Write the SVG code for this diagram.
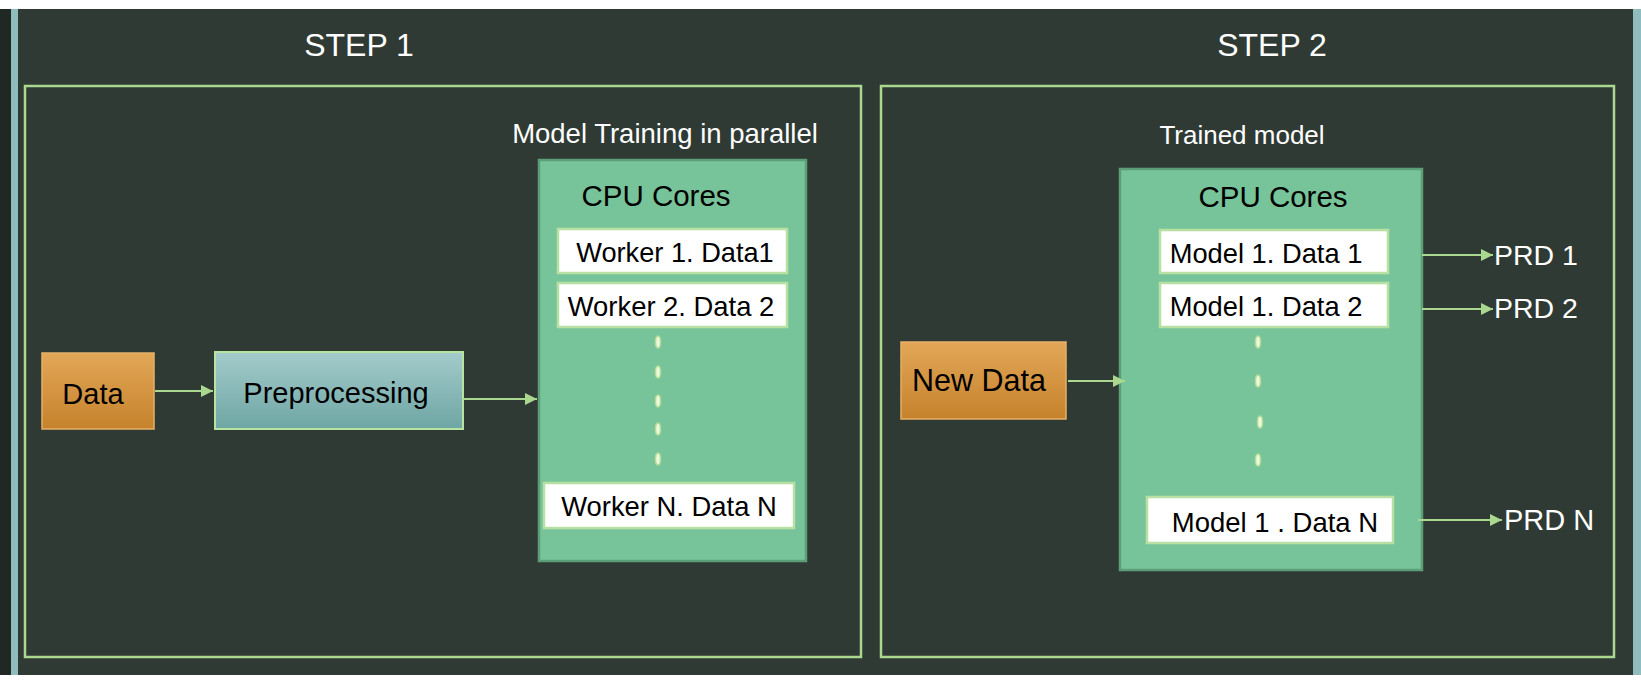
<svg xmlns="http://www.w3.org/2000/svg" width="1641" height="685" viewBox="0 0 1641 685">
<style>
.frame{fill:none;stroke:#a9d88e;stroke-width:2.5}
.cpu{fill:#78c49a;stroke:#5c9e78;stroke-width:2.5}
.inner{fill:#ffffff;stroke:#b8e0a2;stroke-width:2.5}
.t{font-family:"Liberation Sans",Arial,sans-serif;fill:#000}
.w{font-family:"Liberation Sans",Arial,sans-serif;fill:#ffffff}
.conn{stroke:#a9d88e;stroke-width:2.2;fill:none}
.dot{fill:#eef8dc;stroke:#b4dc98;stroke-width:1.5}
</style>
<defs>
<linearGradient id="orange" x1="0" y1="0" x2="0" y2="1">
<stop offset="0" stop-color="#e2a757"/>
<stop offset="1" stop-color="#c6822c"/>
</linearGradient>
<linearGradient id="teal" x1="0" y1="0" x2="0" y2="1">
<stop offset="0" stop-color="#a3cbcb"/>
<stop offset="1" stop-color="#6ea6a4"/>
</linearGradient>
<marker id="ah" viewBox="0 0 10 10" refX="10" refY="5" markerWidth="6" markerHeight="6" markerUnits="userSpaceOnUse" orient="auto">
<path d="M0,0 L10,5 L0,10 z" fill="#a9d88e"/>
</marker>
<marker id="ahb" viewBox="0 0 10 10" refX="10" refY="5" markerWidth="13" markerHeight="12" markerUnits="userSpaceOnUse" orient="auto">
<path d="M0,0 L10,5 L0,10 z" fill="#a9d88e"/>
</marker>
</defs>
<rect x="0" y="0" width="1641" height="685" fill="#ffffff"/>
<rect x="0" y="9" width="1641" height="666" fill="#2f3a34"/>
<rect x="0" y="9" width="11" height="666" fill="#1f2823"/>
<rect x="11" y="9" width="7" height="666" fill="#8fbcbc"/>
<rect x="1633" y="9" width="8" height="666" fill="#8fbcbc"/>

<g id="step1">
<text class="w" x="359" y="56" font-size="32" text-anchor="middle">STEP 1</text>
<rect class="frame" x="25" y="86" width="836" height="571"/>
</g>
<g id="step2">
<text class="w" x="1272" y="56" font-size="32" text-anchor="middle">STEP 2</text>
<rect class="frame" x="881" y="86" width="733" height="571"/>
</g>

<g id="data">
<rect x="42" y="353" width="112" height="76" fill="url(#orange)" stroke="#e6b068" stroke-width="1.5"/>
<text class="t" x="93" y="404" font-size="29" text-anchor="middle">Data</text>
</g>
<g id="preprocessing">
<rect x="215" y="352" width="248" height="77" fill="url(#teal)" stroke="#b8e2a0" stroke-width="2"/>
<text class="t" x="336" y="403" font-size="29" text-anchor="middle">Preprocessing</text>
</g>

<g id="training">
<text class="w" x="665" y="143" font-size="27.5" text-anchor="middle">Model Training in parallel</text>
<rect class="cpu" x="539" y="160" width="267" height="401"/>
<text class="t" x="656" y="206" font-size="29.5" text-anchor="middle">CPU Cores</text>
</g>
<g id="worker1">
<rect class="inner" x="558" y="229" width="229" height="44"/>
<text class="t" x="675" y="262" font-size="27.2" text-anchor="middle">Worker 1. Data1</text>
</g>
<g id="worker2">
<rect class="inner" x="558" y="283" width="229" height="44"/>
<text class="t" x="671" y="316" font-size="27.4" text-anchor="middle">Worker 2. Data 2</text>
</g>
<g id="workerN">
<rect class="inner" x="544" y="483" width="250" height="45"/>
<text class="t" x="669" y="516" font-size="27.4" text-anchor="middle">Worker N. Data N</text>
</g>
<g id="dots1">
<ellipse class="dot" cx="658" cy="342" rx="2.5" ry="6"/>
<ellipse class="dot" cx="658" cy="372" rx="2.5" ry="6"/>
<ellipse class="dot" cx="658" cy="401" rx="2.5" ry="6"/>
<ellipse class="dot" cx="658" cy="429" rx="2.5" ry="6"/>
<ellipse class="dot" cx="658" cy="459" rx="2.5" ry="6"/>
</g>

<g id="newdata">
<rect x="901" y="342" width="165" height="77" fill="url(#orange)" stroke="#e6b068" stroke-width="1.5"/>
<text class="t" x="979" y="391" font-size="30.5" text-anchor="middle">New Data</text>
</g>

<g id="trained">
<text class="w" x="1242" y="144" font-size="26" text-anchor="middle">Trained model</text>
<rect class="cpu" x="1120" y="169" width="302" height="401"/>
<text class="t" x="1273" y="207" font-size="29.5" text-anchor="middle">CPU Cores</text>
</g>
<g id="model1">
<rect class="inner" x="1160" y="230" width="228" height="43"/>
<text class="t" x="1266" y="263" font-size="27.3" text-anchor="middle">Model 1. Data 1</text>
</g>
<g id="model2">
<rect class="inner" x="1160" y="283" width="228" height="44"/>
<text class="t" x="1266" y="316" font-size="27.3" text-anchor="middle">Model 1. Data 2</text>
</g>
<g id="modelN">
<rect class="inner" x="1147" y="497" width="246" height="46"/>
<text class="t" x="1275" y="532" font-size="27.5" text-anchor="middle">Model 1 . Data N</text>
</g>
<g id="dots2">
<ellipse class="dot" cx="1258" cy="342" rx="2.5" ry="6"/>
<ellipse class="dot" cx="1258" cy="381" rx="2.5" ry="6"/>
<ellipse class="dot" cx="1260" cy="422" rx="2.5" ry="6"/>
<ellipse class="dot" cx="1258" cy="460" rx="2.5" ry="6"/>
</g>

<g id="prd1"><text class="w" x="1494" y="265" font-size="28.5">PRD 1</text></g>
<g id="prd2"><text class="w" x="1494" y="318" font-size="28.5">PRD 2</text></g>
<g id="prdN"><text class="w" x="1504" y="530" font-size="29">PRD N</text></g>

<g id="connectors">
<line class="conn" x1="155" y1="391" x2="213" y2="391" marker-end="url(#ahb)"/>
<line class="conn" x1="463" y1="399" x2="537" y2="399" marker-end="url(#ahb)"/>
<line class="conn" x1="1068" y1="381" x2="1125" y2="381" marker-end="url(#ahb)"/>
<line class="conn" x1="1422" y1="255" x2="1493" y2="255" marker-end="url(#ahb)"/>
<line class="conn" x1="1422" y1="309" x2="1493" y2="309" marker-end="url(#ahb)"/>
<line class="conn" x1="1418" y1="520" x2="1502" y2="520" marker-end="url(#ahb)"/>
</g>
</svg>
